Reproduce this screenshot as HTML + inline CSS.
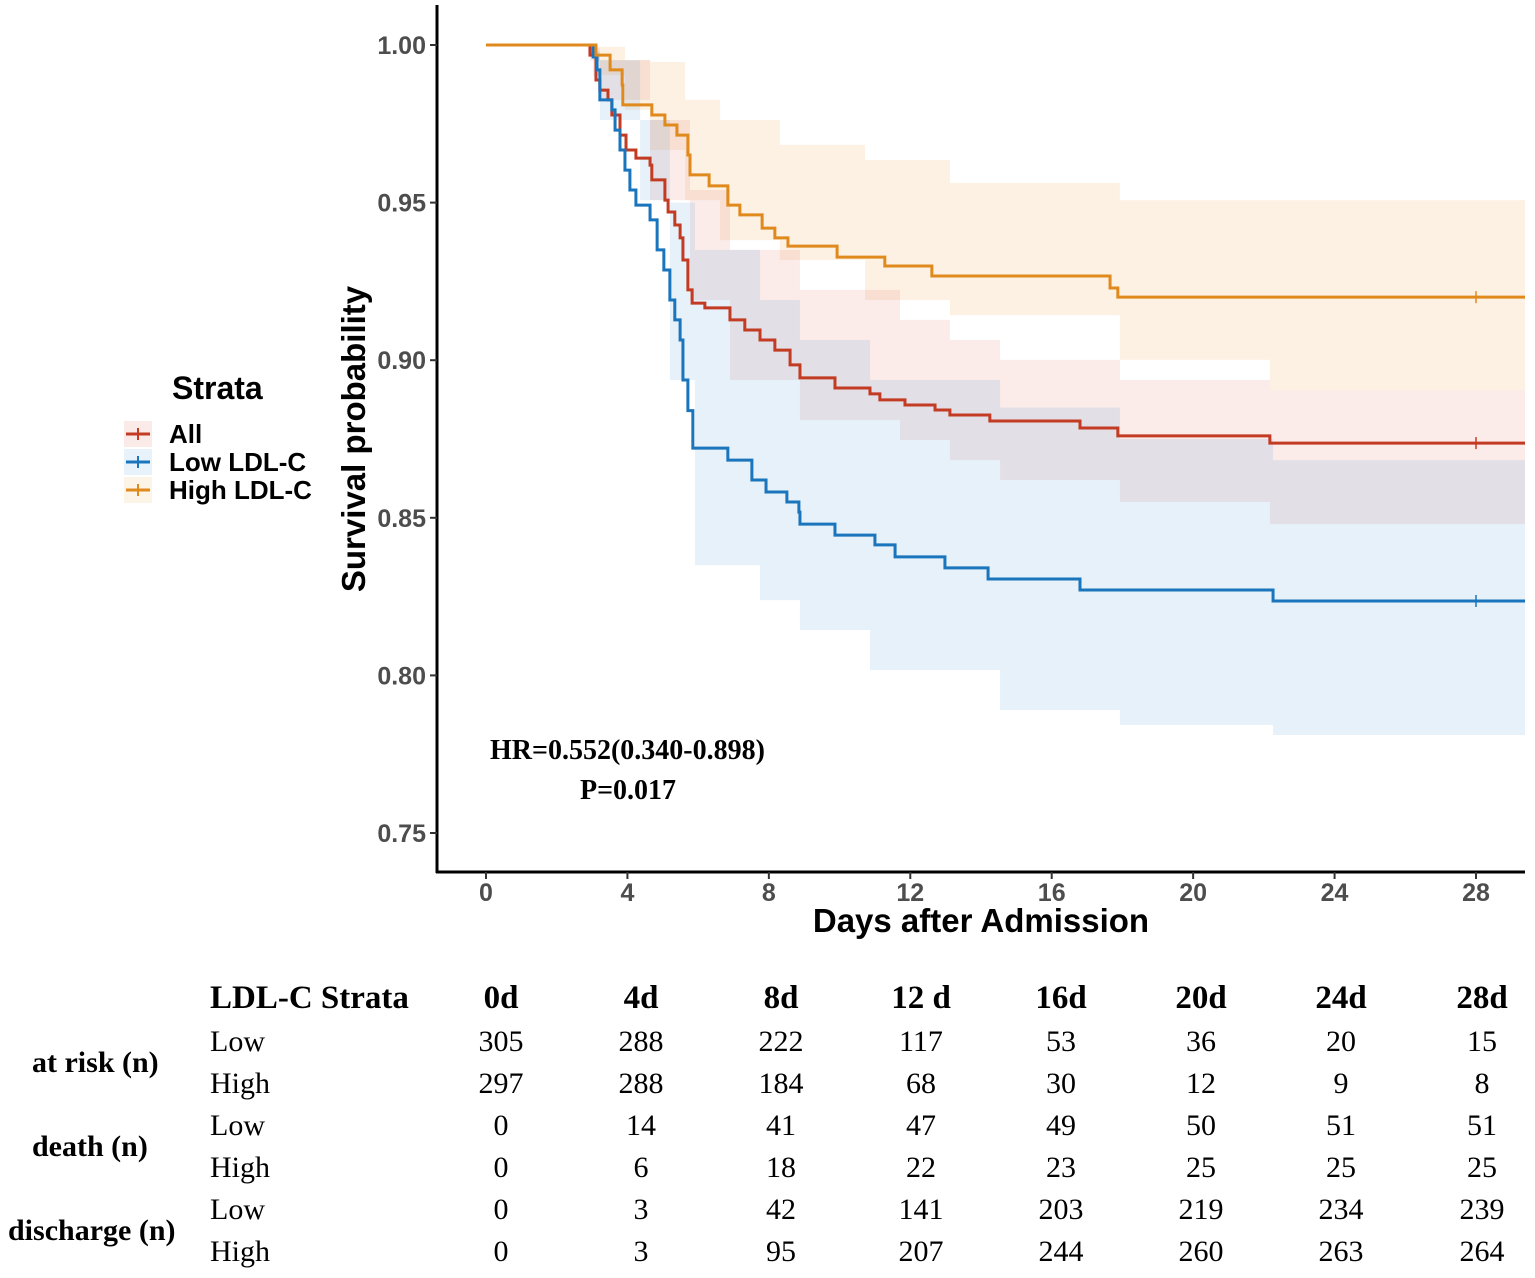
<!DOCTYPE html>
<html><head><meta charset="utf-8"><style>
body{margin:0;background:#fff}
svg{display:block}
.tick{font:bold 25px "Liberation Sans",sans-serif;fill:#4d4d4d}
.ser{font-family:"Liberation Serif",serif;fill:#000}
</style></head><body>
<svg id="chart" width="1535" height="1278" xmlns="http://www.w3.org/2000/svg">
<g id="bands"></g>
<g id="lines"></g>
<g id="axes"></g>
<text transform="translate(365,439) rotate(-90)" text-anchor="middle" style="font:bold 33px 'Liberation Sans',sans-serif">Survival probability</text>
<text x="981" y="932" text-anchor="middle" style="font:bold 33px 'Liberation Sans',sans-serif">Days after Admission</text>
<text class="ser" x="490" y="759" style="font-weight:bold;font-size:28px">HR=0.552(0.340-0.898)</text>
<text class="ser" x="580" y="799" style="font-weight:bold;font-size:28px">P=0.017</text>
<g>
<text x="172" y="399" style="font:bold 32px 'Liberation Sans',sans-serif">Strata</text>
<g><rect x="124" y="421" width="28" height="26" fill="rgba(230,120,100,0.15)"/><line x1="126" y1="434" x2="150" y2="434" stroke="#c23b22" stroke-width="3"/><line x1="138" y1="428" x2="138" y2="440" stroke="#c23b22" stroke-width="2"/><text x="169" y="443" style="font:bold 26px 'Liberation Sans',sans-serif">All</text></g>
<g><rect x="124" y="449" width="28" height="26" fill="rgba(100,170,220,0.15)"/><line x1="126" y1="462" x2="150" y2="462" stroke="#1a75bc" stroke-width="3"/><line x1="138" y1="456" x2="138" y2="468" stroke="#1a75bc" stroke-width="2"/><text x="169" y="471" style="font:bold 26px 'Liberation Sans',sans-serif">Low LDL-C</text></g>
<g><rect x="124" y="477" width="28" height="26" fill="rgba(240,180,100,0.15)"/><line x1="126" y1="490" x2="150" y2="490" stroke="#e08a1e" stroke-width="3"/><line x1="138" y1="484" x2="138" y2="496" stroke="#e08a1e" stroke-width="2"/><text x="169" y="499" style="font:bold 26px 'Liberation Sans',sans-serif">High LDL-C</text></g>
</g>
<g id="table"></g>
</svg>
<script>
const highT=[0,3.11,3.51,3.85,3.87,4.69,5.06,5.4,5.71,5.77,6.31,6.84,7.18,7.81,8.17,8.54,9.93,11.28,12.61,17.65,17.87];
const highS=[1,.9968,.9921,.9873,.981,.9778,.9746,.9714,.9651,.9588,.9553,.9492,.9461,.9419,.9388,.9362,.9327,.9299,.9267,.9229,.92];
const lowT=[0,3.03,3.14,3.22,3.56,3.65,3.79,3.93,4.07,4.24,4.64,4.84,5.03,5.2,5.34,5.49,5.57,5.71,5.85,6.84,7.52,7.92,8.51,8.85,8.88,9.87,11.0,11.57,12.98,14.2,16.8,22.26];
const lowS=[1,.9962,.9921,.9826,.9794,.973,.9667,.9603,.954,.9492,.9445,.935,.9286,.9191,.9128,.9064,.8937,.884,.8721,.8683,.862,.8582,.855,.8518,.848,.8445,.8414,.8376,.8341,.8306,.8271,.8236];
const allT=[0,2.94,3.11,3.22,3.45,3.56,3.79,3.96,4.24,4.64,4.69,5.06,5.15,5.34,5.49,5.57,5.71,5.83,6.19,6.9,7.32,7.75,8.17,8.6,8.88,9.87,10.86,11.14,11.85,12.7,13.12,14.25,16.8,17.87,22.17];
const allS=[1,.9968,.9889,.9857,.9826,.9778,.9714,.9667,.9641,.9619,.9572,.9508,.947,.9429,.9388,.9318,.9223,.9181,.9166,.9128,.9096,.9064,.9032,.8985,.8944,.8912,.8893,.8874,.8858,.8842,.8826,.8807,.8785,.876,.8737];
const highBT=[0,3.11,3.93,4.64,5.63,6.62,8.31,10.72,13.12,17.93,22.17];
const highUp=[1,.9995,.9952,.9946,.9826,.9762,.9683,.9635,.9562,.9508,.9508];
const highLo=[1,.9905,.9794,.9667,.9508,.9381,.9318,.9191,.9143,.9001,.8905];
const allBT=[0,2.94,3.22,4.64,5.77,6.9,8.88,11.71,13.12,14.54,17.93,22.17];
const allUp=[1,.999,.9952,.9762,.954,.935,.9223,.9128,.9064,.9001,.8937,.8905];
const allLo=[1,.995,.9826,.9508,.9191,.8937,.881,.8747,.8683,.8620,.855,.848];
const lowBT=[0,3.03,3.22,4.36,5.2,5.91,7.75,8.88,10.86,14.54,17.93,22.26];
const lowUp=[1,.998,.9952,.9762,.95,.935,.9191,.9064,.8937,.885,.875,.8683];
const lowLo=[1,.99,.9762,.9508,.8937,.835,.8239,.8144,.8017,.789,.7843,.7811];
const xTicks=[0,4,8,12,16,20,24,28];
const yTicks=[0.75,0.80,0.85,0.90,0.95,1.00];
const tblCols=["0d","4d","8d","12 d","16d","20d","24d","28d"];
const atRiskLow=[305,288,222,117,53,36,20,15];
const atRiskHigh=[297,288,184,68,30,12,9,8];
const deathLow=[0,14,41,47,49,50,51,51];
const deathHigh=[0,6,18,22,23,25,25,25];
const dischLow=[0,3,42,141,203,219,234,239];
const dischHigh=[0,3,95,207,244,260,263,264];
const NS="http://www.w3.org/2000/svg";
const X=d=>486+d*35.357, Y=p=>45+(1-p)*3152, XEND=1525;
function mk(tag,attrs,parent){const e=document.createElementNS(NS,tag);for(const k in attrs)e.setAttribute(k,attrs[k]);parent.appendChild(e);return e;}
function stepPts(T,S){let pts=[];for(let i=0;i<T.length;i++){if(i>0)pts.push([X(T[i]),Y(S[i-1])]);pts.push([X(T[i]),Y(S[i])]);}pts.push([XEND,Y(S[S.length-1])]);return pts;}
const bands=document.getElementById('bands'),lines=document.getElementById('lines');
function band(T,U,L,fill,name){const up=stepPts(T,U),lo=stepPts(T,L).reverse();const p=mk('polygon',{points:up.concat(lo).map(a=>a.join(',')).join(' '),fill:fill},bands);

}
band(highBT,highUp,highLo,'rgba(240,170,90,0.16)','band-high');
band(allBT,allUp,allLo,'rgba(230,110,100,0.14)','band-all');
band(lowBT,lowUp,lowLo,'rgba(90,160,215,0.15)','band-low');
function curve(T,S,col,name){const p=mk('polyline',{points:stepPts(T,S).map(a=>a.join(',')).join(' '),fill:'none',stroke:col,'stroke-width':3},lines);


const yy=Y(S[S.length-1]);const c=mk('line',{x1:X(28),x2:X(28),y1:yy-6,y2:yy+6,stroke:col,'stroke-width':1.5},lines);

}
curve(allT,allS,'#c23b22','line-all');
curve(lowT,lowS,'#1a75bc','line-low');
curve(highT,highS,'#e08a1e','line-high');
const ax=document.getElementById('axes');
mk('line',{x1:437,y1:5,x2:437,y2:873,stroke:'#000','stroke-width':3},ax);
mk('line',{x1:436,y1:872,x2:1525,y2:872,stroke:'#000','stroke-width':3},ax);
xTicks.forEach(t=>{mk('line',{x1:X(t),x2:X(t),y1:872,y2:879,stroke:'#333','stroke-width':2},ax);const e=mk('text',{x:X(t),y:901,'text-anchor':'middle',class:'tick'},ax);e.textContent=t;

});
yTicks.forEach(t=>{mk('line',{x1:430,x2:437,y1:Y(t),y2:Y(t),stroke:'#333','stroke-width':2},ax);const e=mk('text',{x:426,y:Y(t)+9,'text-anchor':'end',class:'tick'},ax);e.textContent=t.toFixed(2);

});
const tb=document.getElementById('table');
const colX=[501,641,781,921,1061,1201,1341,1482];
function txt(x,y,s,sz,bold,anchor,name){const e=mk('text',{x:x,y:y,class:'ser','font-size':sz,'font-weight':bold?'bold':'normal','text-anchor':anchor||'start'},tb);e.textContent=s;

}
txt(210,1008,'LDL-C Strata',33,true,'start','table-header-strata');
tblCols.forEach((c,i)=>txt(colX[i],1008,c,33,true,'middle','table-header-day'));
const rows=[atRiskLow,atRiskHigh,deathLow,deathHigh,dischLow,dischHigh];
const rowY=[1051,1093,1135,1177,1219,1261];
rows.forEach((r,j)=>{txt(210,rowY[j],j%2?'High':'Low',30,false,'start','table-row-label');r.forEach((v,i)=>txt(colX[i],rowY[j],v,30,false,'middle','table-cell'));});
txt(32,1072,'at risk (n)',30,true,'start','table-group-at-risk');
txt(32,1156,'death (n)',30,true,'start','table-group-death');
txt(8,1240,'discharge (n)',30,true,'start','table-group-discharge');
</script>
</body></html>
